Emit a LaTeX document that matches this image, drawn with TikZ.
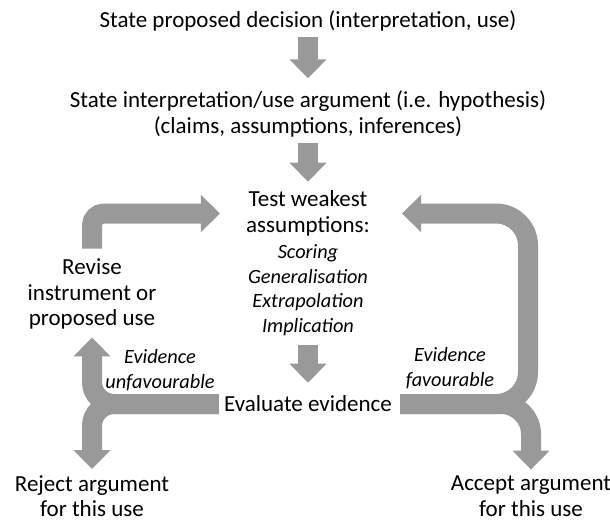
\documentclass[tikz,border=0pt]{standalone}
\usepackage{fontspec}
\setmainfont{Carlito}
\usepackage{tikz}
\usetikzlibrary{arrows.meta,calc,positioning}

\begin{document}
\begin{tikzpicture}[x=1pt,y=-1pt]

  % Parameters
  \def\colx{308}
  \def\barw{20pt}

  % Styles
  \tikzstyle{phase}=[align=center,inner sep=0pt,font=\fontsize{23}{25.5}\selectfont]
  \tikzstyle{detail}=[align=center,inner sep=0pt,font=\fontsize{20.3}{24.5}\selectfont\itshape]
  \tikzstyle{flow}=[draw=black!40,line width=\barw,-{Triangle[width=36pt,length=19pt]}]

  \useasboundingbox (0,0) rectangle (610,522);

  % Main column
  \node[phase] (decide) at (\colx,21) {State proposed decision (interpretation, use)};
  \node[phase] (argue) at (\colx,114) {State interpretation/use argument (i.e. hypothesis)\\(claims, assumptions, inferences)};
  \node[phase] (test) at (\colx,213.5) {Test weakest\\assumptions:};
  \node[detail] (infer) at (\colx,290) {Scoring\\Generalisation\\Extrapolation\\Implication};
  \node[phase] (evaluate) at (\colx,404) {Evaluate evidence};

  % Outcomes
  \node[phase] (revise) at (92,294) {Revise\\instrument or\\proposed use};
  \node[phase] (reject) at (92,496) {Reject argument\\for this use};
  \node[phase] (accept) at (531,496) {Accept argument\\for this use};
  \node[detail] (unfav) at (160,370) {Evidence\\unfavourable};
  \node[detail] (fav) at (450,368) {Evidence\\favourable};

  % Right rail of the loop
  \coordinate (rail) at (528,300);

  % Straight steps
  \draw[flow,shorten <=6pt,shorten >=12.5pt] (decide) -- (argue);
  \draw[flow,shorten <=5.5pt,shorten >=9pt] (argue) -- (test);
  \draw[flow,shorten <=9pt,shorten >=13pt] (infer) -- (evaluate);

  % Revise and test again
  \draw[flow,rounded corners=12pt,shorten <=10pt,shorten >=26pt] (revise.north) |- (test.west);

  % Unfavourable evidence
  \draw[flow,rounded corners=22pt,shorten <=5pt,shorten >=8pt] (evaluate.west) -| (revise.south);
  \draw[flow,rounded corners=22pt,shorten <=5pt,shorten >=6pt] (evaluate.west) -| (reject.north);

  % Favourable evidence
  \draw[flow,rounded corners=32pt,shorten <=8pt,shorten >=32pt] (evaluate.east) -| (rail |- test.east) -- (test.east);
  \draw[flow,rounded corners=30pt,shorten <=8pt,shorten >=6pt] (evaluate.east) -| (accept.north);

\end{tikzpicture}
\end{document}
